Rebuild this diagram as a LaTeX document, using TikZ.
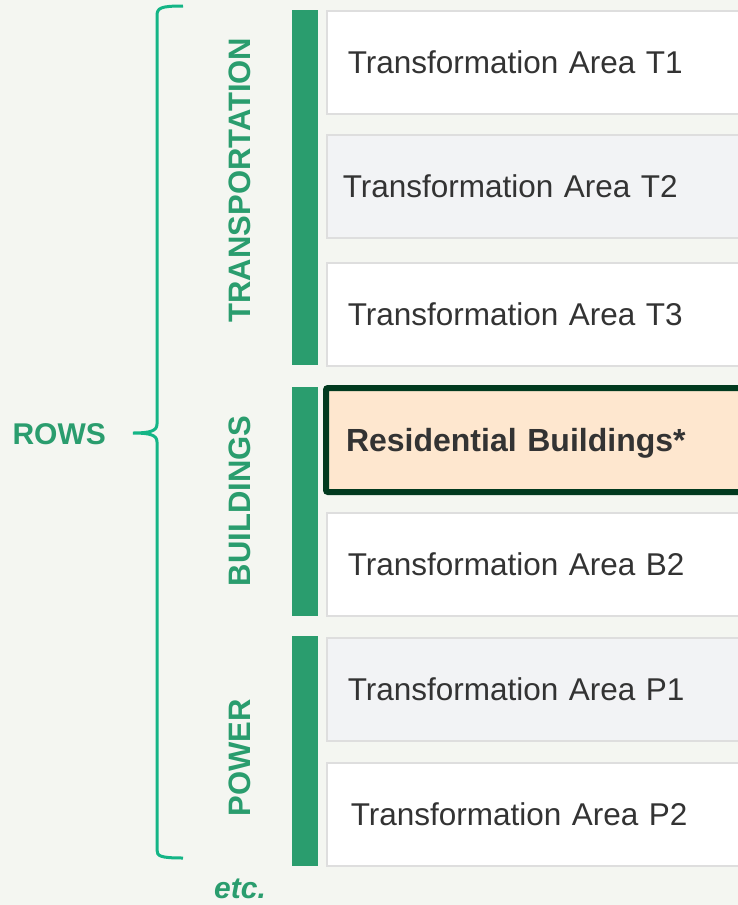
\documentclass[tikz,border=0pt]{standalone}
\usepackage{fontspec}
\setmainfont{Liberation Sans}
\definecolor{bgpaper}{HTML}{F4F6F1}
\definecolor{boxgray}{HTML}{F2F3F5}
\definecolor{boxline}{HTML}{DEDEDE}
\definecolor{ink}{HTML}{333333}
\definecolor{bargreen}{HTML}{2A9D6E}
\definecolor{bracegreen}{HTML}{14B586}
\definecolor{darkline}{HTML}{013A1F}
\definecolor{peach}{HTML}{FEE7CF}
\tikzset{
  areabox/.style={draw=boxline, line width=1.5pt, fill=white, minimum height=103pt,
    text width=396pt, inner xsep=21pt, align=left, anchor=north west,
    font=\fontsize{31.5}{36}\selectfont, text=ink},
  grayarea/.style={areabox, fill=boxgray},
  sidelabel/.style={rotate=90, font=\fontsize{31}{36}\selectfont\bfseries, text=bargreen}
}
\begin{document}
\begin{tikzpicture}[x=1pt,y=-1pt]

    % page
    \fill[bgpaper] (0,0) rectangle (738,905);
    \useasboundingbox (0,0) rectangle (738,905);

    % green bars
    \fill[bargreen] (292,10) rectangle (318,365);
    \fill[bargreen] (292,387) rectangle (318,616);
    \fill[bargreen] (292,636) rectangle (318,866);

    % transportation
    \node[areabox] (t1) at (326,10) {Transformation Area T1};
    \node[grayarea, inner xsep=16pt] (t2) at (326,134) {Transformation Area T2};
    \node[areabox] (t3) at (326,262) {Transformation Area T3};

    % buildings
    \node[areabox, draw=darkline, line width=6pt, fill=peach, rounded corners=2pt,
          minimum height=104pt, font=\fontsize{32}{36}\selectfont\bfseries,
          text depth=0pt, inner xsep=20pt] (b1) at (323,385) {Residential Buildings*};
    \node[areabox] (b2) at (326,512) {Transformation Area B2};

    % power
    \node[grayarea] (p1) at (326,637) {Transformation Area P1};
    \node[areabox, inner xsep=24pt] (p2) at (326,762) {Transformation Area P2};

    % group labels
    \node[sidelabel] (transp) at (240,180) {TRANSPORTATION};
    \node[sidelabel] (build) at (240,501) {BUILDINGS};
    \node[sidelabel] (power) at (240,758) {POWER};

    % brace
    \draw[bracegreen, line width=3pt]
        (183,6) .. controls (160,6) and (157,8) .. (157,16) -- (157,424)
        .. controls (157,431) and (150,433) .. (133,433)
        .. controls (150,433) and (157,435) .. (157,442) -- (157,850)
        .. controls (157,856) and (160,858) .. (183,858);
    \node[font=\fontsize{30}{36}\selectfont\bfseries, text=bargreen, anchor=west] (rows) at (9,434) {ROWS};

    % more rows below
    \node[font=\fontsize{30}{34}\selectfont\bfseries\itshape, text=bargreen] (etc) at (240,889) {etc.};

\end{tikzpicture}
\end{document}
